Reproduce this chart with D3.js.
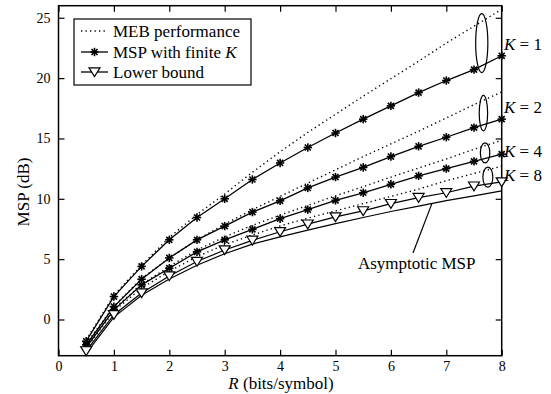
<!DOCTYPE html>
<html><head><meta charset="utf-8">
<script src="https://cdn.jsdelivr.net/npm/d3@7"></script>
</head>
<body style="margin:0">
<svg id="chart" width="551" height="394" font-family="Liberation Serif"></svg>
<script>
const R = [0.5,1,1.5,2,2.5,3,3.5,4,4.5,5,5.5,6,6.5,7,7.5,8];
const mebK1 = [-1.7,2.0,4.5,6.8,8.7,10.4,12.2,13.9,15.5,17.0,18.5,19.95,21.4,22.9,24.3,25.7];
const mebK2 = [-2.0,1.1,3.4,5.1,6.6,7.9,9.1,10.2,11.3,12.4,13.5,14.55,15.6,16.7,17.8,18.85];
const mebK4 = [-2.2,0.9,2.9,4.4,5.75,6.85,7.8,8.65,9.45,10.25,11.0,11.8,12.55,13.3,14.1,14.85];
const mebK8 = [-2.4,0.7,2.6,4.0,5.2,6.2,7.0,7.75,8.4,9.0,9.6,10.2,10.8,11.5,12.1,12.7];
const mspK1 = [-1.8,1.9,4.4,6.6,8.45,10.0,11.6,12.97,14.25,15.45,16.6,17.7,18.8,19.8,20.7,21.85];
const mspK2 = [-2.1,1.07,3.34,5.1,6.6,7.74,8.9,9.83,10.9,11.8,12.6,13.5,14.35,15.1,15.9,16.6];
const mspK4 = [-2.3,0.8,2.87,4.25,5.6,6.6,7.47,8.35,9.1,9.87,10.5,11.2,11.9,12.5,13.1,13.7];
const lowerBound = [-2.6,0.4,2.2,3.6,4.8,5.76,6.56,7.27,7.9,8.5,9.0,9.6,10.1,10.5,11.05,11.4];
const asymptotic = [-2.8,0.2,2.0,3.35,4.5,5.45,6.25,6.85,7.4,7.95,8.45,8.95,9.4,9.85,10.25,10.66];
const xTicks = [0,1,2,3,4,5,6,7,8];
const yTicks = [0,5,10,15,20,25];
const kLabels = ["1","2","4","8"];
const kLabelValues = [22.3, 17.1, 13.5, 11.45];
const ellipses = [
  {r:7.64, v:22.9, rr:0.11, rv:2.44},
  {r:7.67, v:17.1, rr:0.076, rv:1.47},
  {r:7.70, v:13.8, rr:0.085, rv:0.83},
  {r:7.75, v:11.8, rr:0.09, rv:0.83}
];
const legendItems = ["MEB performance","MSP with finite ","Lower bound"];

const FONT = "Liberation Serif";
const svg = d3.select("#chart");
const L=58.5, Rt=501.7, T=5.7, B=355.7;
const x = d3.scaleLinear().domain([0,8]).range([L,Rt]);
const y = d3.scaleLinear().domain([-3,26]).range([B,T]);

const g = svg.append("g");
g.append("rect").attr("x",L).attr("y",T).attr("width",Rt-L).attr("height",B-T)
  .attr("fill","none").attr("stroke","#000").attr("stroke-width",1.5);

const tl = 6;
const axB = g.append("g").attr("transform",`translate(0,${B})`)
  .call(d3.axisBottom(x).tickValues(xTicks).tickSize(-tl).tickPadding(5.5).tickFormat(d3.format("d")));
const axT = g.append("g").attr("transform",`translate(0,${T})`)
  .call(d3.axisTop(x).tickValues(xTicks).tickSize(-tl).tickFormat(""));
const axL = g.append("g").attr("transform",`translate(${L},0)`)
  .call(d3.axisLeft(y).tickValues(yTicks).tickSize(-tl).tickPadding(8).tickFormat(d3.format("d")));
const axR = g.append("g").attr("transform",`translate(${Rt},0)`)
  .call(d3.axisRight(y).tickValues(yTicks).tickSize(-tl).tickFormat(""));
[axB,axT,axL,axR].forEach(a=>{
  a.attr("font-family",FONT).attr("font-size",14);
  a.select(".domain").remove();
  a.selectAll("line").attr("stroke","#000").attr("stroke-width",1.2);
  a.selectAll("text").attr("font-family",FONT).attr("font-size",14).attr("fill","#000");
});

const line = d3.line().x((d,i)=>x(R[i])).y(d=>y(d));
[mebK1,mebK2,mebK4,mebK8].forEach(s=>{
  g.append("path").attr("d",line(s)).attr("fill","none").attr("stroke","#000")
   .attr("stroke-width",1.4).attr("stroke-dasharray","1.3,3.2");
});
g.append("path").attr("d",line(asymptotic)).attr("fill","none").attr("stroke","#000").attr("stroke-width",1.2);
g.append("path").attr("d",line(lowerBound)).attr("fill","none").attr("stroke","#000").attr("stroke-width",1.2);
[mspK1,mspK2,mspK4].forEach(s=>{
  g.append("path").attr("d",line(s)).attr("fill","none").attr("stroke","#000").attr("stroke-width",1.3);
});

function star(sel,cx,cy,r){
  const gg = sel.append("g").attr("transform",`translate(${cx},${cy})`);
  [[0,-r,0,r],[-r,0,r,0],[-r*0.72,-r*0.72,r*0.72,r*0.72],[-r*0.72,r*0.72,r*0.72,-r*0.72]].forEach(p=>{
    gg.append("line").attr("x1",p[0]).attr("y1",p[1]).attr("x2",p[2]).attr("y2",p[3])
      .attr("stroke","#000").attr("stroke-width",1.6);
  });
}
function tri(sel,cx,cy,s){
  sel.append("path").attr("d",`M${cx-s},${cy-s*0.75}L${cx+s},${cy-s*0.75}L${cx},${cy+s*0.85}Z`)
    .attr("fill","#fff").attr("stroke","#000").attr("stroke-width",1.2);
}
[mspK1,mspK2,mspK4].forEach(s=>{
  s.forEach((v,i)=>star(g,x(R[i]),y(v),4.2));
});
lowerBound.forEach((v,i)=>tri(g,x(R[i]),y(v),5.5));

ellipses.forEach(e=>{
  g.append("ellipse").attr("cx",x(e.r)).attr("cy",y(e.v))
   .attr("rx",x(e.r+e.rr)-x(e.r)).attr("ry",y(e.v)-y(e.v+e.rv))
   .attr("fill","none").attr("stroke","#000").attr("stroke-width",1.2);
});
function txt(sel){ return sel.attr("font-family",FONT).attr("font-size",17).attr("fill","#000"); }
kLabels.forEach((k,i)=>{
  const t = txt(g.append("text")).attr("x",504).attr("y",y(kLabelValues[i]));
  t.append("tspan").attr("font-style","italic").text("K");
  t.append("tspan").text(" = "+k);
});

g.append("line").attr("x1",413).attr("y1",253).attr("x2",x(6.74)).attr("y2",y(9.6))
  .attr("stroke","#000").attr("stroke-width",1.2);
txt(g.append("text")).attr("x",416.7).attr("y",269).attr("text-anchor","middle").text("Asymptotic MSP");

const xl = txt(svg.append("text")).attr("x",281).attr("y",389).attr("text-anchor","middle");
xl.append("tspan").attr("font-style","italic").text("R");
xl.append("tspan").text(" (bits/symbol)");
txt(svg.append("text")).attr("transform","translate(28.5,192) rotate(-90)").attr("text-anchor","middle").text("MSP (dB)");

const lg = svg.append("g");
lg.append("rect").attr("x",74).attr("y",19).attr("width",177).attr("height",66)
  .attr("fill","#fff").attr("stroke","#000").attr("stroke-width",1.2);
const rows=[31,52,72];
lg.append("line").attr("x1",81).attr("x2",108).attr("y1",rows[0]).attr("y2",rows[0])
  .attr("stroke","#000").attr("stroke-width",1.4).attr("stroke-dasharray","1.3,3.2");
lg.append("line").attr("x1",81).attr("x2",108).attr("y1",rows[1]).attr("y2",rows[1])
  .attr("stroke","#000").attr("stroke-width",1.3);
star(lg,94.5,rows[1],4.2);
lg.append("line").attr("x1",81).attr("x2",108).attr("y1",rows[2]).attr("y2",rows[2])
  .attr("stroke","#000").attr("stroke-width",1.3);
tri(lg,94.5,rows[2],5.5);
legendItems.forEach((s,i)=>{
  const t = txt(lg.append("text")).attr("x",113).attr("y",rows[i]+5.5);
  t.append("tspan").text(s);
  if(i===1) t.append("tspan").attr("font-style","italic").text("K");
});
</script>
</body></html>
